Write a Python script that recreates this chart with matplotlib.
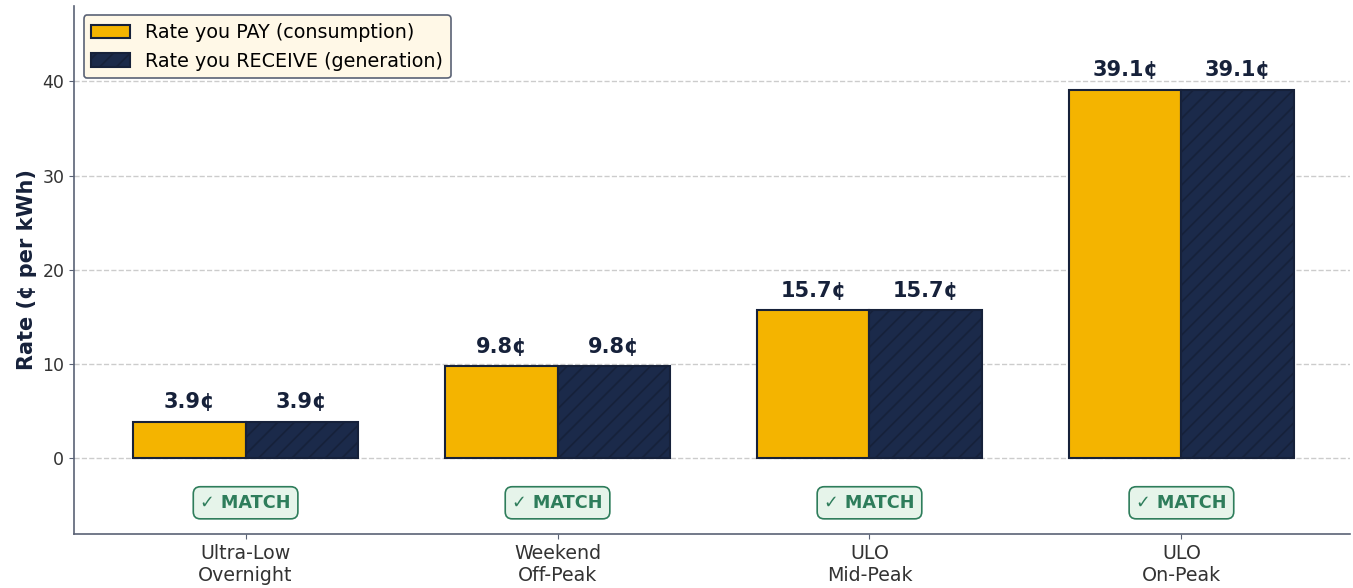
import matplotlib.pyplot as plt
import numpy as np

periods = ["Ultra-Low\nOvernight", "Weekend\nOff-Peak", "ULO\nMid-Peak", "ULO\nOn-Peak"]
pay_rates = [3.9, 9.8, 15.7, 39.1]
receive_rates = [3.9, 9.8, 15.7, 39.1]

GOLD = "#F4B400"
NAVY = "#1B2A4A"
EDGE = "#16213A"
GREEN = "#2E7D5B"

plt.rcParams["hatch.color"] = "#101A30"
plt.rcParams["hatch.linewidth"] = 1.2

fig = plt.figure(figsize=(13.53, 5.88), dpi=100)
ax = fig.add_axes([0.0547, 0.092, 0.943, 0.898])

x = np.arange(len(periods))
width = 0.36

pay_bars = ax.bar(x - width / 2, pay_rates, width, color=GOLD, edgecolor=EDGE,
                  linewidth=1.5, label="Rate you PAY (consumption)", zorder=3)
recv_bars = ax.bar(x + width / 2, receive_rates, width, color=NAVY, edgecolor=EDGE,
                   linewidth=1.5, hatch="//", label="Rate you RECEIVE (generation)", zorder=3)

for bars, values in [(pay_bars, pay_rates), (recv_bars, receive_rates)]:
    for bar, v in zip(bars, values):
        ax.text(bar.get_x() + bar.get_width() / 2, v + 1.0, f"{v:.1f}¢",
                ha="center", va="bottom", fontsize=15, fontweight="bold", color="#16213A")

for i, (p, r) in enumerate(zip(pay_rates, receive_rates)):
    if abs(p - r) < 1e-9:
        ax.text(x[i], -4.7, "✓ MATCH", ha="center", va="center", fontsize=12.7,
                fontweight="bold", color=GREEN,
                bbox=dict(boxstyle="round,pad=0.4", facecolor="#E6F4EA", edgecolor=GREEN, linewidth=1.2))

ax.set_xticks(x)
ax.set_xticklabels(periods, fontsize=13.7, color="#333333")
ax.tick_params(axis="y", labelsize=12.5, colors="#333333")
ax.tick_params(axis="both", color="#5A6275")
ax.set_ylabel("Rate (¢ per kWh)", fontsize=15, fontweight="bold", color="#16213A")
ax.set_ylim(-8, 48)
ax.set_xlim(-0.55, 3.54)
ax.set_yticks([0, 10, 20, 30, 40])

ax.yaxis.grid(True, linestyle="--", color="#CCCCCC", linewidth=1, zorder=0)
ax.set_axisbelow(True)
for side in ["top", "right"]:
    ax.spines[side].set_visible(False)
for side in ["left", "bottom"]:
    ax.spines[side].set_color("#5A6275")
    ax.spines[side].set_linewidth(1.2)

leg = ax.legend(loc="upper left", fontsize=13.8, frameon=True, facecolor="#FFF8E7",
                edgecolor="#5A6275", framealpha=1)
leg.get_frame().set_linewidth(1.2)

fig.savefig("out.png", dpi=100)
